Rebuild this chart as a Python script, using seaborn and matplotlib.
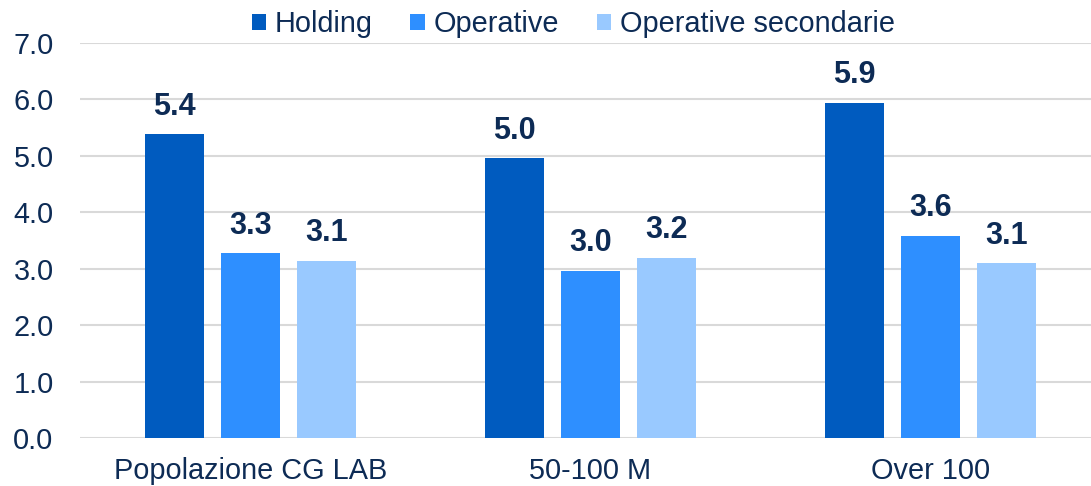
import matplotlib
matplotlib.use("Agg")
import matplotlib.pyplot as plt
import seaborn as sns
import pandas as pd

categories = ["Popolazione CG LAB", "50-100 M", "Over 100"]
series_names = ["Holding", "Operative", "Operative secondarie"]
holding = [5.38, 4.96, 5.94]
operative = [3.27, 2.96, 3.58]
operative_sec = [3.14, 3.19, 3.10]
y_ticks = [0.0, 1.0, 2.0, 3.0, 4.0, 5.0, 6.0, 7.0]

colors = ["#005BBF", "#2E8FFF", "#99C9FF"]
text_color = "#0D2B55"
grid_color = "#D9D9D9"

sns.set_theme(style="white")
plt.rcParams["font.family"] = ["Liberation Sans", "DejaVu Sans"]

rows = []
for name, vals in zip(series_names, [holding, operative, operative_sec]):
    for cat, v in zip(categories, vals):
        rows.append({"categoria": cat, "serie": name, "valore": v})
df = pd.DataFrame(rows)

fig = plt.figure(figsize=(10.91, 4.86), dpi=100)
ax = fig.add_axes([80 / 1091, 48 / 486, 1021 / 1091, (438 - 43) / 486])

sns.barplot(data=df, x="categoria", y="valore", hue="serie",
            order=categories, hue_order=series_names, palette=colors,
            width=0.67, gap=0.224, linewidth=0, saturation=1,
            errorbar=None, ax=ax)

for cont in ax.containers:
    ax.bar_label(cont, fmt="%.1f", padding=9, fontsize=22,
                 fontweight="bold", color=text_color)

ax.set_ylim(0, 7.0)
ax.set_yticks(y_ticks)
ax.set_yticklabels([f"{t:.1f}" for t in y_ticks])
ax.yaxis.grid(True, color=grid_color, linewidth=1.5)
ax.set_axisbelow(True)
for s in ax.spines.values():
    s.set_visible(False)
ax.tick_params(axis="y", length=0, pad=19, labelsize=20.8, labelcolor=text_color)
ax.tick_params(axis="x", length=0, pad=14, labelsize=20.8, labelcolor=text_color)
ax.set_xlabel("")
ax.set_ylabel("")

ax.legend(loc="lower center", bbox_to_anchor=(0.483, 1.012), ncol=3,
          frameon=False, fontsize=20.8, labelcolor=text_color,
          handlelength=0.5, handleheight=0.5, handletextpad=0.3,
          columnspacing=1.3, borderaxespad=0, borderpad=0)

fig.savefig("out.png", dpi=100)
